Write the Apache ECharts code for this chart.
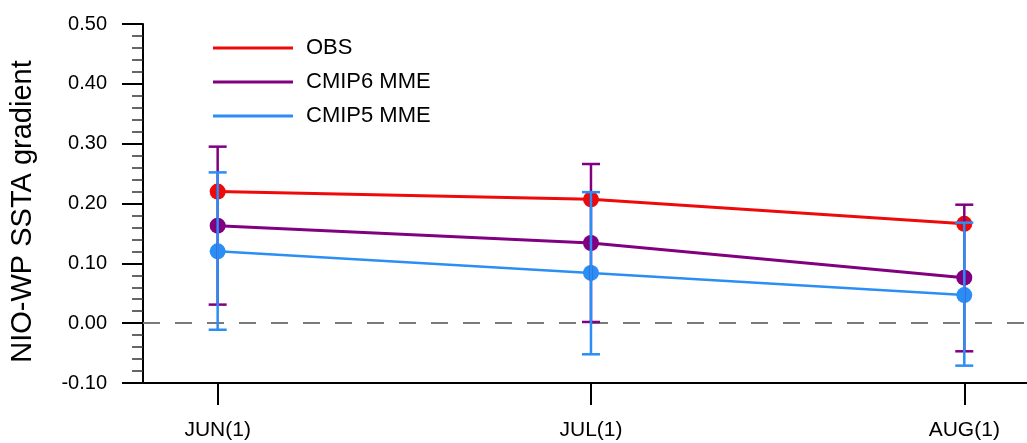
<!DOCTYPE html>
<html>
<head>
<meta charset="utf-8">
<script src="https://cdn.jsdelivr.net/npm/echarts@6/dist/echarts.min.js"></script>
<style>
html,body{margin:0;padding:0;background:#fff;}
#chart{width:1027px;height:443px;}
</style>
</head>
<body>
<div id="chart"></div>
<script>
var months = ['JUN(1)', 'JUL(1)', 'AUG(1)'];
var yTicks = [-0.1, 0.0, 0.1, 0.2, 0.3, 0.4, 0.5];
var obs = [0.220, 0.207, 0.166];
var cmip6 = [0.163, 0.134, 0.076];
var cmip5 = [0.120, 0.084, 0.047];
var cmip6Low = [0.031, 0.002, -0.047];
var cmip6High = [0.295, 0.266, 0.198];
var cmip5Low = [-0.011, -0.052, -0.071];
var cmip5High = [0.252, 0.219, 0.168];

var RED = '#ee0a0a', PURPLE = '#800080', BLUE = '#2b8ef5';
var FONT = 'Liberation Sans, Arial, Helvetica, sans-serif';

function pts(arr) { return arr.map(function (v, i) { return [i, v]; }); }
function bars(lo, hi) { return lo.map(function (v, i) { return [i, v, hi[i]]; }); }

function errRender(color) {
  return function (params, api) {
    var x = api.value(0);
    var p1 = api.coord([x, api.value(1)]);
    var p2 = api.coord([x, api.value(2)]);
    var hw = 9;
    var st = { stroke: color, lineWidth: 2.5 };
    return {
      type: 'group',
      children: [
        { type: 'line', shape: { x1: p1[0], y1: p1[1], x2: p2[0], y2: p2[1] }, style: st },
        { type: 'line', shape: { x1: p1[0] - hw, y1: p1[1], x2: p1[0] + hw, y2: p1[1] }, style: st },
        { type: 'line', shape: { x1: p2[0] - hw, y1: p2[1], x2: p2[0] + hw, y2: p2[1] }, style: st }
      ]
    };
  };
}

var chart = echarts.init(document.getElementById('chart'), null, { renderer: 'canvas' });
chart.setOption({
  animation: false,
  backgroundColor: '#fff',
  textStyle: { fontFamily: FONT },
  grid: { left: 141, right: 0, top: 24, bottom: 60, containLabel: false },
  legend: {
    orient: 'vertical',
    left: 213,
    top: 37,
    padding: 0,
    itemWidth: 80,
    itemHeight: 3,
    itemGap: 12,
    icon: 'rect',
    textStyle: { fontSize: 22, color: '#000', fontFamily: FONT, padding: [0, 0, 0, 8] },
    data: ['OBS', 'CMIP6 MME', 'CMIP5 MME']
  },
  xAxis: {
    type: 'value',
    min: -0.2,
    max: 2.168,
    splitLine: { show: false },
    axisLine: { show: true, onZero: false, lineStyle: { color: '#000', width: 2 } },
    axisTick: { show: true, inside: false, length: 22, customValues: [0, 1, 2], lineStyle: { color: '#000', width: 2 } },
    axisLabel: {
      show: true, customValues: [0, 1, 2], margin: 37, fontSize: 21, color: '#000', fontFamily: FONT,
      formatter: function (v) { return months[Math.round(v)] || ''; }
    }
  },
  yAxis: {
    type: 'value',
    min: yTicks[0],
    max: yTicks[yTicks.length - 1],
    interval: 0.1,
    name: 'NIO-WP SSTA gradient',
    nameLocation: 'middle',
    nameGap: 106,
    nameTextStyle: { fontSize: 29, color: '#000', fontFamily: FONT, padding: [0, 16, 0, 0] },
    splitLine: { show: false },
    axisLine: { show: true, onZero: false, lineStyle: { color: '#000', width: 2 } },
    axisTick: { show: true, inside: false, length: 21, lineStyle: { color: '#000', width: 2 } },
    minorTick: { show: true, splitNumber: 5, length: 11, lineStyle: { color: '#333', width: 1.5 } },
    axisLabel: {
      margin: 36, fontSize: 20, color: '#000', fontFamily: FONT,
      formatter: function (v) { return v.toFixed(2); }
    }
  },
  series: [
    {
      name: 'OBS', type: 'line', data: pts(obs), z: 3,
      symbol: 'circle', symbolSize: 16,
      lineStyle: { color: RED, width: 3 }, itemStyle: { color: RED },
      markLine: {
        silent: true, symbol: 'none', label: { show: false },
        lineStyle: { color: '#7a7a7a', width: 2, type: [17, 15] },
        data: [{ yAxis: 0 }]
      }
    },
    {
      name: 'CMIP6 MME', type: 'line', data: pts(cmip6), z: 3,
      symbol: 'circle', symbolSize: 16,
      lineStyle: { color: PURPLE, width: 3 }, itemStyle: { color: PURPLE }
    },
    {
      name: 'CMIP5 MME', type: 'line', data: pts(cmip5), z: 3,
      symbol: 'circle', symbolSize: 16,
      lineStyle: { color: BLUE, width: 2.5 }, itemStyle: { color: BLUE }
    },
    {
      name: 'CMIP6 err', type: 'custom', z: 5, data: bars(cmip6Low, cmip6High),
      renderItem: errRender(PURPLE), encode: { x: 0, y: [1, 2] }
    },
    {
      name: 'CMIP5 err', type: 'custom', z: 6, data: bars(cmip5Low, cmip5High),
      renderItem: errRender(BLUE), encode: { x: 0, y: [1, 2] }
    }
  ]
});
</script>
</body>
</html>
